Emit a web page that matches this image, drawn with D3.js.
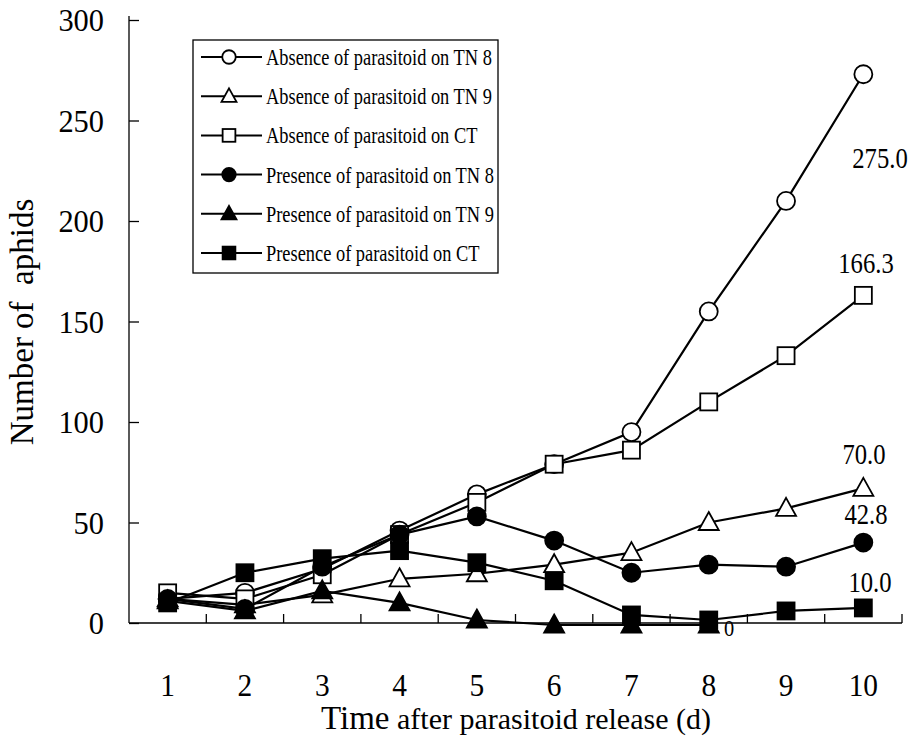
<!DOCTYPE html>
<html><head><meta charset="utf-8">
<script src="https://cdn.jsdelivr.net/npm/d3@7"></script>
<style>body{margin:0;background:#fff}svg{display:block}svg text{font-family:"Liberation Serif","Times New Roman",serif;fill:#000}</style>
</head><body>
<svg id="c" width="921" height="753"></svg>
<script>
const days = [1,2,3,4,5,6,7,8,9,10];
const yTicks = [0,50,100,150,200,250,300];
const absTN8 = [12,15,27,46,64,79,95,155,210,273];
const absTN9 = [12,9,14,22,24.5,29,35,50,57,67];
const absCT  = [15,12,24,44,60,79,86,110,133,163];
const preTN8 = [12,7,28,44,53,41,25,29,28,40];
const preTN9 = [11,6,16,10,1.5,-1,-1,-1];
const preCT  = [10,25,32,36,30,21,4,1.5,6,7.5];
const seriesNames = ["Absence of parasitoid on TN 8","Absence of parasitoid on TN 9","Absence of parasitoid on CT",
  "Presence of parasitoid on TN 8","Presence of parasitoid on TN 9","Presence of parasitoid on CT"];
const seriesShapes = ["circle","triangle","square","circle","triangle","square"];
const seriesFilled = [false,false,false,true,true,true];
const endLabels = ["275.0","70.0","166.3","42.8","0","10.0"];
const series = [absTN8,absTN9,absCT,preTN8,preTN9,preCT];

const FONT = "Liberation Serif";
const svg = d3.select("#c");
const x = d3.scaleLinear().domain([0.5,10.5]).range([129,902]);
const y = d3.scaleLinear().domain([0,300]).range([623,20]);

function ctext(px, py, size, sx, anchor, str){
  return svg.append("text").attr("transform",`translate(${px},${py}) scale(${sx},1)`)
    .attr("font-family",FONT).attr("text-anchor",anchor).attr("font-size",size).text(str);
}

// y axis
const yAxis = d3.axisRight(y).tickValues(yTicks).tickSize(10).tickFormat("");
const gy = svg.append("g").attr("transform","translate(129,0)").call(yAxis);
gy.select(".domain").remove();
gy.selectAll("line").attr("stroke","#000").attr("stroke-width",1.3);
svg.append("line").attr("x1",129).attr("x2",129).attr("y1",y(300)-4).attr("y2",y(0)).attr("stroke","#000").attr("stroke-width",1.3);
yTicks.forEach(t=>ctext(104, y(t)+11, 32, 0.95, "end", t));

// x axis
svg.append("line").attr("x1",129).attr("x2",902).attr("y1",y(0)).attr("y2",y(0)).attr("stroke","#000").attr("stroke-width",1.3);
const xb = days.map(d=>d+0.5);
svg.selectAll(".xt").data(xb).join("line").attr("class","xt")
  .attr("x1",d=>x(d)).attr("x2",d=>x(d)).attr("y1",y(0)).attr("y2",y(0)-9).attr("stroke","#000").attr("stroke-width",1.3);
const xAxis = d3.axisBottom(x).tickValues(days).tickSize(0).tickFormat("");
const gx = svg.append("g").attr("transform","translate(0,"+y(0)+")").call(xAxis);
gx.select(".domain").remove();
days.forEach(d=>ctext(x(d), 696, 32, 0.92, "middle", d));

// titles
const xt = svg.append("text").attr("x",516).attr("y",729).attr("text-anchor","middle").attr("font-family",FONT).attr("font-size",30);
xt.append("tspan").attr("font-size",33).text("Time");
xt.append("tspan").text(" after parasitoid release (d)");
svg.append("text").attr("transform","translate(33,322) rotate(-90)").attr("text-anchor","middle").attr("font-family",FONT).attr("font-size",33).attr("xml:space","preserve").text("Number of  aphids");

// markers
function marker(g, shape, filled, cx, cy, s){
  const fill = filled ? "#000" : "#fff";
  if(shape==="circle") g.append("circle").attr("cx",cx).attr("cy",cy).attr("r",9*s).attr("fill",fill).attr("stroke","#000").attr("stroke-width",1.8);
  else if(shape==="square") g.append("rect").attr("x",cx-8.5*s).attr("y",cy-8.5*s).attr("width",17*s).attr("height",17*s).attr("fill",fill).attr("stroke","#000").attr("stroke-width",1.8);
  else g.append("path").attr("d",`M${cx},${cy-10.5*s}L${cx+10*s},${cy+7.5*s}L${cx-10*s},${cy+7.5*s}Z`).attr("fill",fill).attr("stroke","#000").attr("stroke-width",1.8);
}
const line = d3.line().x((d,i)=>x(days[i])).y(d=>y(d));
series.forEach((s,k)=>{
  svg.append("path").attr("d",line(s)).attr("fill","none").attr("stroke","#000").attr("stroke-width",2.2);
});
series.forEach((s,k)=>{
  const g = svg.append("g");
  s.forEach((v,i)=>marker(g, seriesShapes[k], seriesFilled[k], x(days[i]), y(v), 1));
});

// end labels
const labelPos = [[880,168],[864,464],[866,273],[866,524],[729,636],[870,592]];
endLabels.forEach((t,k)=>{
  const el = ctext(labelPos[k][0], labelPos[k][1], k===4?24:29, 0.85, "middle", t);
  if(k===4) el.attr("fill","#777");
});

// legend
svg.append("rect").attr("x",193).attr("y",40).attr("width",305).attr("height",233).attr("fill","#fff").attr("stroke","#000").attr("stroke-width",1.3);
seriesNames.forEach((n,k)=>{
  const ly = 57 + k*39.2;
  svg.append("line").attr("x1",201).attr("x2",262).attr("y1",ly).attr("y2",ly).attr("stroke","#000").attr("stroke-width",2);
  marker(svg, seriesShapes[k], seriesFilled[k], 229, ly, 0.75);
  ctext(266, ly+8, 23, 0.8, "start", n);
});
</script>
</body></html>
